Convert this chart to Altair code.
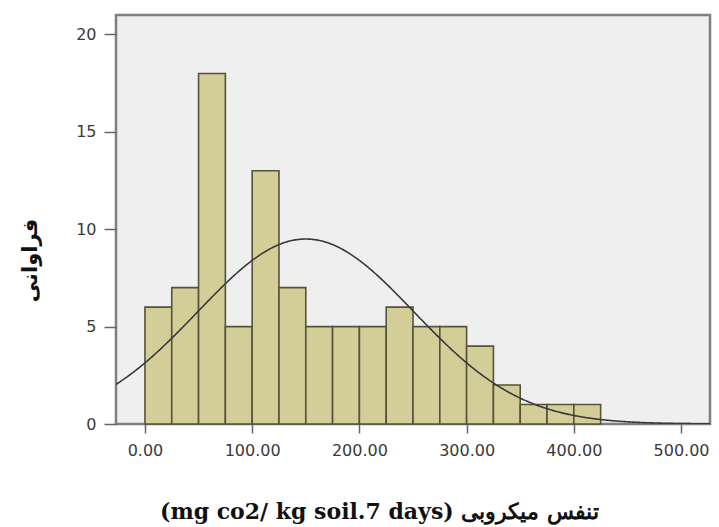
import altair as alt
import pandas as pd
import math

# Histogram bins (width 25) and frequencies
bin_start = [0, 25, 50, 75, 100, 125, 150, 175, 200, 225, 250, 275, 300, 325, 350, 375, 400]
counts = [6, 7, 18, 5, 13, 7, 5, 5, 5, 6, 5, 5, 4, 2, 1, 1, 1]
BIN_W = 25

x_ticks = [0, 100, 200, 300, 400, 500]
y_ticks = [0, 5, 10, 15, 20]

# Normal curve parameters read from the overlay
N = sum(counts)
MEAN = 150.0
SD = 100.8

X_DOMAIN = [-27, 527]
Y_DOMAIN = [0, 21]

bars_df = pd.DataFrame({
    "start": bin_start,
    "end": [b + BIN_W for b in bin_start],
    "count": counts,
})

xscale = alt.Scale(domain=X_DOMAIN, nice=False, zero=False)
yscale = alt.Scale(domain=Y_DOMAIN, nice=False)

label_font = "DejaVu Sans"

x_axis = alt.Axis(
    values=x_ticks, format=".2f", domain=False, grid=False,
    tickSize=9, tickColor="#666666", tickWidth=1.5,
    labelFont=label_font, labelFontSize=16, labelColor="#3a3a3a", labelPadding=9,
    title="(mg co2/ kg soil.7 days) تنفس میکروبی",
    titleFont="DejaVu Serif", titleFontSize=22, titleFontWeight="bold",
    titleColor="#111111", titleX=263, titleY=87, titleAlign="center",
    titleBaseline="middle", titleAngle=0,
)
y_axis = alt.Axis(
    values=y_ticks, domain=False, grid=False,
    tickSize=12, tickColor="#666666", tickWidth=1.5,
    labelFont=label_font, labelFontSize=16, labelColor="#3a3a3a", labelPadding=8,
    title="فراوانی",
    titleFont="DejaVu Sans", titleFontSize=21, titleFontWeight="bold",
    titleColor="#111111", titleX=-86, titleY=245, titleAlign="center",
    titleBaseline="middle", titleAngle=-90,
)

bars = alt.Chart(bars_df).mark_rect(
    fill="#D3CE98", stroke="#55533A", strokeWidth=1.6
).encode(
    x=alt.X("start:Q", scale=xscale, axis=x_axis),
    x2="end:Q",
    y=alt.Y("count:Q", scale=yscale, axis=y_axis),
    y2=alt.datum(0),
)

peak = N * BIN_W / (SD * math.sqrt(2 * math.pi))

curve = alt.Chart(alt.sequence(X_DOMAIN[0], X_DOMAIN[1] + 1, 1, as_="x")).transform_calculate(
    y=f"{peak} * exp(-0.5 * pow((datum.x - {MEAN}) / {SD}, 2))"
).mark_line(color="#3a3a3a", strokeWidth=1.6, clip=True).encode(
    x=alt.X("x:Q", scale=xscale),
    y=alt.Y("y:Q", scale=yscale),
)

chart = alt.layer(bars, curve).properties(
    width=594, height=409,
    autosize=alt.AutoSizeParams(type="none"),
    padding={"left": 116, "top": 15, "right": 9, "bottom": 103},
    background="white",
).configure_view(
    fill="#EFEFEF", stroke="#7F7F7F", strokeWidth=2.5
)

chart.save("out.html", embed_options={"renderer": "svg", "actions": False})
